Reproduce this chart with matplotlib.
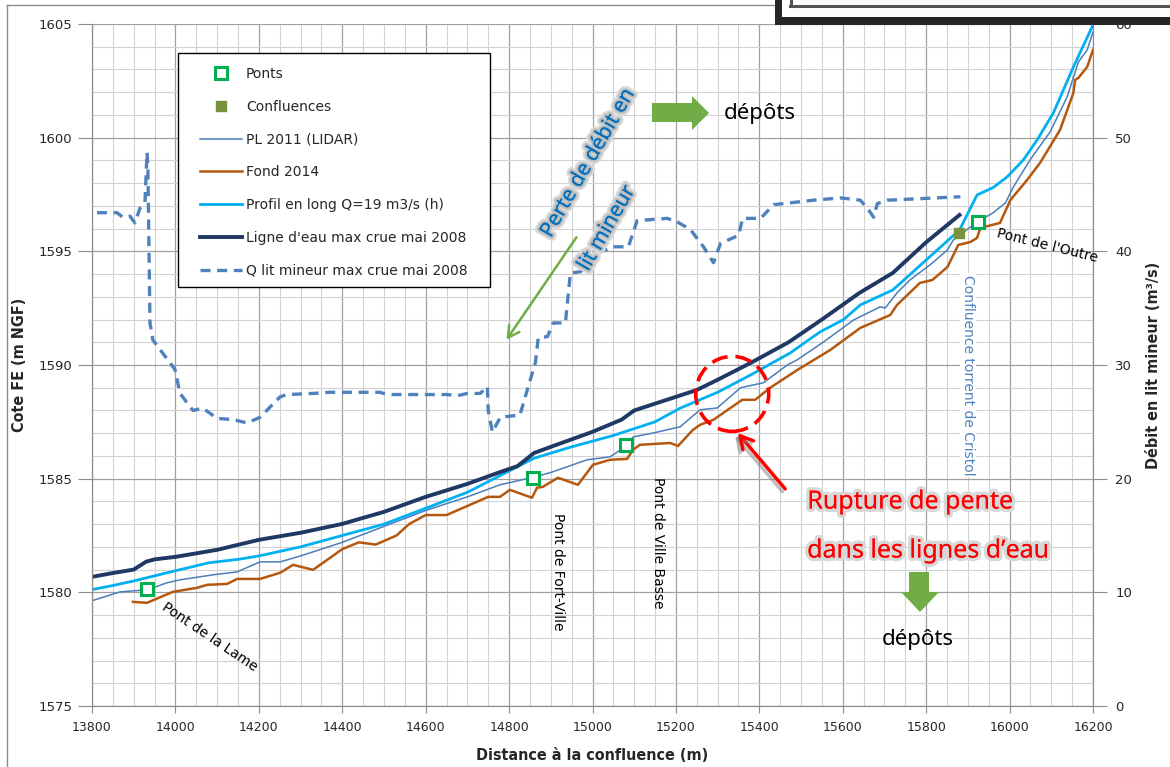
import numpy as np
import matplotlib.pyplot as plt
from matplotlib.patches import Polygon, Ellipse, Rectangle
from matplotlib.lines import Line2D
import matplotlib.patheffects as pe

W, H = 1170, 767

# Ligne d'eau max crue mai 2008
x_crue = [13800, 13850, 13900, 13930, 13950, 14000, 14100, 14200, 14300, 14400,
          14500, 14600, 14700, 14780, 14820, 14860, 14900, 15000, 15070, 15100,
          15200, 15250, 15300, 15380, 15470, 15550, 15640, 15720, 15800, 15880]
z_crue = [1580.68, 1580.85, 1581.00, 1581.35, 1581.45, 1581.56, 1581.87, 1582.31, 1582.62, 1583.01,
          1583.54, 1584.20, 1584.77, 1585.30, 1585.55, 1586.13, 1586.40, 1587.06, 1587.60, 1588.00,
          1588.60, 1588.90, 1589.35, 1590.10, 1591.00, 1592.00, 1593.17, 1594.05, 1595.40, 1596.60]

# Profil en long Q=19 m3/s
x_q19 = [13800, 13850, 13900, 13980, 14080, 14150, 14200, 14300, 14400, 14500,
         14600, 14700, 14780, 14860, 14950, 15050, 15150, 15210, 15300, 15380,
         15474, 15546, 15602, 15642, 15720, 15800, 15880, 15922, 15960, 15994,
         16033, 16066, 16105, 16153, 16200]
z_q19 = [1580.12, 1580.30, 1580.50, 1580.86, 1581.30, 1581.45, 1581.60, 1582.00, 1582.50, 1583.00,
         1583.70, 1584.40, 1585.15, 1585.90, 1586.40, 1586.90, 1587.50, 1588.10, 1588.80, 1589.57,
         1590.53, 1591.46, 1592.00, 1592.64, 1593.30, 1594.62, 1595.94, 1597.48, 1597.80, 1598.27,
         1599.02, 1599.90, 1601.09, 1603.11, 1604.96]

# PL 2011 (LIDAR)
x_pl = [13800, 13867, 13932, 13980, 14011, 14090, 14148, 14203, 14251, 14300,
        14400, 14500, 14600, 14700, 14778, 14850, 14898, 14987, 15042, 15074,
        15098, 15146, 15210, 15258, 15299, 15355, 15410, 15467, 15491, 15553,
        15626, 15690, 15702, 15730, 15761, 15809, 15851, 15865, 15906, 15922,
        15960, 15990, 16009, 16049, 16097, 16138, 16165, 16186, 16200]
z_pl = [1579.63, 1580.02, 1580.11, 1580.42, 1580.55, 1580.77, 1580.90, 1581.34, 1581.34, 1581.60,
        1582.20, 1582.90, 1583.60, 1584.20, 1584.73, 1585.03, 1585.26, 1585.83, 1585.96, 1586.35,
        1586.84, 1587.01, 1587.28, 1588.03, 1588.11, 1589.00, 1589.22, 1590.00, 1590.23, 1591.00,
        1591.98, 1592.56, 1592.51, 1593.17, 1593.74, 1594.40, 1595.06, 1595.50, 1596.07, 1596.29,
        1596.69, 1597.13, 1597.83, 1599.02, 1600.25, 1601.79, 1603.33, 1603.86, 1604.65]

# Fond 2014
x_fond = [13898, 13932, 13994, 14052, 14076, 14124, 14148, 14203, 14251, 14282,
          14330, 14364, 14400, 14440, 14480, 14530, 14560, 14600, 14650, 14700,
          14750, 14778, 14802, 14855, 14867, 14881, 14917, 14965, 15001, 15042,
          15083, 15097, 15114, 15186, 15205, 15241, 15258, 15290, 15359, 15390,
          15426, 15491, 15570, 15642, 15714, 15730, 15785, 15815, 15851, 15877,
          15906, 15922, 15930, 15977, 16002, 16042, 16073, 16121, 16153, 16157,
          16165, 16186, 16200]
z_fond = [1579.58, 1579.54, 1580.02, 1580.20, 1580.33, 1580.37, 1580.59, 1580.59, 1580.86, 1581.21,
          1580.99, 1581.43, 1581.90, 1582.20, 1582.10, 1582.50, 1583.00, 1583.40, 1583.40, 1583.80,
          1584.20, 1584.20, 1584.51, 1584.16, 1584.60, 1584.64, 1585.04, 1584.73, 1585.61, 1585.83,
          1585.87, 1586.27, 1586.49, 1586.57, 1586.44, 1587.15, 1587.37, 1587.59, 1588.47, 1588.47,
          1589.00, 1589.78, 1590.66, 1591.63, 1592.20, 1592.64, 1593.61, 1593.74, 1594.31, 1595.28,
          1595.41, 1595.59, 1596.03, 1596.25, 1597.26, 1598.14, 1598.89, 1600.34, 1601.97, 1602.54,
          1602.63, 1603.11, 1603.86]

# Q lit mineur max crue mai 2008 (axe de droite)
x_qlm = [13812, 13860, 13874, 13891, 13903, 13915, 13927, 13932, 13934, 13939,
         13946, 13999, 14011, 14042, 14066, 14100, 14138, 14172, 14203, 14251,
         14268, 14330, 14371, 14491, 14507, 14651, 14676, 14700, 14731, 14748,
         14750, 14760, 14779, 14826, 14846, 14863, 14870, 14892, 14906, 14935,
         14947, 14971, 15011, 15050, 15086, 15107, 15179, 15203, 15235, 15266,
         15290, 15307, 15350, 15360, 15403, 15434, 15530, 15595, 15642, 15659,
         15674, 15683, 15707, 15882]
q_qlm = [43.4, 43.4, 43.0, 43.1, 42.5, 43.8, 44.3, 48.7, 47.4, 33.7,
         32.2, 29.6, 27.5, 26.0, 26.2, 25.3, 25.2, 24.9, 25.4, 27.2,
         27.4, 27.5, 27.6, 27.6, 27.4, 27.4, 27.3, 27.5, 27.5, 28.1,
         26.0, 24.1, 25.4, 25.6, 28.1, 30.2, 32.4, 32.5, 33.7, 33.7,
         38.1, 38.2, 39.8, 40.4, 40.4, 42.7, 42.9, 42.6, 41.9, 40.4,
         39.0, 40.7, 41.4, 42.9, 42.9, 44.1, 44.5, 44.7, 44.5, 43.8,
         43.0, 44.2, 44.5, 44.8]

# ponts et confluences
x_ponts = [13932, 14858, 15081, 15925]
z_ponts = [1580.15, 1585.03, 1586.49, 1596.29]
noms_ponts = ["Pont de la Lame", "Pont de Fort-Ville", "Pont de Ville Basse", "Pont de l'Outre"]
x_confl = [15879]
z_confl = [1595.81]

c_crue = '#1F3864'
c_q19 = '#00B0F0'
c_pl = '#4A7EBB'
c_fond = '#B5580F'
c_qlm = '#4F81BD'
c_pont = '#00B050'
c_confl = '#77933C'
c_vert = '#70AD47'


def fp(x, y):
    # pixels -> fraction de figure
    return (x / W, 1 - y / H)


fig = plt.figure(figsize=(W / 100, H / 100), dpi=100)
ax = fig.add_axes([92 / W, 1 - 706 / H, (1093 - 92) / W, (706 - 24) / H])
ax2 = ax.twinx()

ax.set_xlim(13800, 16200)
ax.set_ylim(1575, 1605)
ax2.set_ylim(0, 60)
ax.set_xticks(np.arange(13800, 16201, 200))
ax.set_xticks(np.arange(13800, 16201, 50), minor=True)
ax.set_yticks(np.arange(1575, 1606, 5))
ax.set_yticks(np.arange(1575, 1606, 1), minor=True)
ax2.set_yticks(np.arange(0, 61, 10))
ax.grid(which='major', color='#a0a0a0', lw=0.9)
ax.grid(which='minor', color='#d2d2d2', lw=0.8)
ax.set_axisbelow(True)
for a in (ax, ax2):
    a.spines['top'].set_visible(False)
    for s in ('left', 'right', 'bottom'):
        a.spines[s].set_color('#8c8c8c')
ax.tick_params(which='major', axis='y', length=10, color='#8c8c8c', labelsize=9.5, labelcolor='#262626', pad=4)
ax.tick_params(which='major', axis='x', length=5, color='#8c8c8c', labelsize=9, labelcolor='#262626', pad=6)
ax.tick_params(which='minor', length=0)
ax2.tick_params(axis='y', length=10, color='#8c8c8c', labelsize=9.5, labelcolor='#262626', pad=6)

ax.plot(x_pl, z_pl, color=c_pl, lw=1.1, zorder=3)
ax.plot(x_fond, z_fond, color=c_fond, lw=1.8, zorder=3)
ax.plot(x_q19, z_q19, color=c_q19, lw=2.0, zorder=3)
ax.plot(x_crue, z_crue, color=c_crue, lw=2.8, zorder=3)
ax.plot(x_ponts, z_ponts, ls='none', marker='s', ms=8, mfc='white', mec=c_pont, mew=2.2, zorder=4)
ax.plot(x_confl, z_confl, ls='none', marker='s', ms=7, color=c_confl, zorder=4)
ax2.plot(x_qlm, q_qlm, color=c_qlm, lw=2.4, ls=(0, (3, 2)))

lab_font = dict(fontsize=11.5, fontweight='bold', fontstretch='condensed', color='#262626')
ax.set_xlabel('Distance à la confluence (m)', labelpad=10, **lab_font)
ax.set_ylabel('Cote FE (m NGF)', labelpad=8, **lab_font)
ax2.set_ylabel('Débit en lit mineur (m³/s)', labelpad=10, **lab_font)

# légende (cadre dessiné à part)
handles = [
    Line2D([], [], ls='none', marker='s', ms=8, mfc='white', mec=c_pont, mew=2.2),
    Line2D([], [], ls='none', marker='s', ms=7, color=c_confl),
    Line2D([], [], color=c_pl, lw=1.1),
    Line2D([], [], color=c_fond, lw=1.8),
    Line2D([], [], color=c_q19, lw=2.0),
    Line2D([], [], color=c_crue, lw=2.8),
    Line2D([], [], color=c_qlm, lw=2.4, ls=(0, (3, 2))),
]
labels = ['Ponts', 'Confluences', 'PL 2011 (LIDAR)', 'Fond 2014', 'Profil en long Q=19 m3/s (h)',
          "Ligne d'eau max crue mai 2008", 'Q lit mineur max crue mai 2008']
leg = ax2.legend(handles, labels, loc='upper left', bbox_to_anchor=fp(200, 67),
                 bbox_transform=fig.transFigure, borderaxespad=0, borderpad=0,
                 fontsize=10, labelspacing=1.35, handlelength=3.0, handletextpad=0.3,
                 frameon=False)
for t in leg.get_texts():
    t.set_color('#262626')
fig.add_artist(Rectangle(fp(178, 287), (490 - 178) / W, (287 - 53) / H, transform=fig.transFigure,
                         facecolor='none', edgecolor='black', lw=1.0, zorder=5))
leg_bg = Rectangle(fp(178, 287), (490 - 178) / W, (287 - 53) / H, transform=fig.transFigure,
                   facecolor='white', edgecolor='none', zorder=1)
ax2.add_artist(leg_bg)
leg_bg.set_zorder(-1)

# noms des ponts
fig.text(*fp(210, 637), noms_ponts[0], rotation=-34, ha='center', va='center', fontsize=10)
fig.text(*fp(558, 572), noms_ponts[1], rotation=-90, ha='center', va='center', fontsize=10)
fig.text(*fp(658, 543), noms_ponts[2], rotation=-90, ha='center', va='center', fontsize=10)
fig.text(*fp(1047, 246), noms_ponts[3], rotation=-14, ha='center', va='center', fontsize=10)
fig.text(*fp(968, 375), 'Confluence torrent de Cristol', rotation=-90, ha='center', va='center',
         fontsize=10, color=c_qlm, bbox=dict(facecolor='white', edgecolor='none', pad=1))

# perte de débit
glow = [pe.withStroke(linewidth=6, foreground='#dadada'), pe.withStroke(linewidth=3, foreground='#bdbdbd')]
fig.text(*fp(588, 163), 'Perte de débit en', rotation=60, ha='center', va='center', fontsize=15,
         color='#0070C0', family='Noto Sans', path_effects=glow + [pe.Normal()])
fig.text(*fp(607, 228), 'lit mineur', rotation=60, ha='center', va='center', fontsize=15,
         color='#0070C0', family='Noto Sans', path_effects=glow + [pe.Normal()])
ax.annotate('', xy=fp(505, 342), xytext=fp(578, 235), xycoords='figure fraction',
            arrowprops=dict(arrowstyle='->,head_length=0.8,head_width=0.45', color=c_vert, lw=1.8))

# flèches vertes "dépôts"
fl_droite = [(652, 103), (692, 103), (692, 96), (709, 113), (692, 130), (692, 122), (652, 122)]
fl_bas = [(909, 572), (929, 572), (929, 592), (939, 592), (920, 612), (901, 592), (909, 592)]
for fl in (fl_droite, fl_bas):
    fig.add_artist(Polygon([fp(*p) for p in fl], closed=True, transform=fig.transFigure,
                           facecolor=c_vert, edgecolor='none'))
fig.text(*fp(760, 113), 'dépôts', ha='center', va='center', fontsize=16, family='Noto Sans')
fig.text(*fp(918, 640), 'dépôts', ha='center', va='center', fontsize=16, family='Noto Sans')

# rupture de pente
ax.add_patch(Ellipse((15335, 1588.73), 175, 3.3, fill=False, edgecolor='#FF0000', lw=2.6,
                     ls=(0, (4.5, 2.2)), zorder=6))
shadow = [pe.SimpleLineShadow(offset=(-2, -2), shadow_color='#808080', alpha=0.5), pe.Normal()]
ax.annotate('', xy=fp(736, 431), xytext=fp(787, 491), xycoords='figure fraction',
            arrowprops=dict(arrowstyle='->,head_length=0.9,head_width=0.5', color='#FF0000', lw=2.5,
                            path_effects=shadow))
glow2 = [pe.withStroke(linewidth=5, foreground='#d8d8d8'), pe.Normal()]
fig.text(*fp(910, 502), 'Rupture de pente', ha='center', va='center', fontsize=18, color='#FF0000',
         family='Noto Sans', path_effects=glow2)
fig.text(*fp(928, 551), 'dans les lignes d’eau', ha='center', va='center', fontsize=18, color='#FF0000',
         family='Noto Sans', path_effects=glow2)

# cadre du graphique et encart en haut à droite
fig.add_artist(plt.Line2D([7 / W, 7 / W], [0, 1 - 5 / H], transform=fig.transFigure, color='#8c8c8c', lw=1))
fig.add_artist(plt.Line2D([7 / W, 775 / W], [1 - 5 / H, 1 - 5 / H], transform=fig.transFigure, color='#8c8c8c', lw=1))
fig.add_artist(Rectangle(fp(775, 25), (W - 775) / W, 25 / H, transform=fig.transFigure,
                         facecolor='white', edgecolor='none', zorder=10))
fig.add_artist(Rectangle(fp(775, 25), 7 / W, 25 / H, transform=fig.transFigure,
                         facecolor='#262626', edgecolor='none', zorder=11))
fig.add_artist(Rectangle(fp(775, 25), (W - 775) / W, 8 / H, transform=fig.transFigure,
                         facecolor='#262626', edgecolor='none', zorder=11))
fig.add_artist(plt.Line2D([790 / W, 1], [1 - 6 / H, 1 - 6 / H], transform=fig.transFigure,
                          color='#555555', lw=2.2, zorder=12))
fig.add_artist(plt.Line2D([791 / W, 791 / W], [1 - 6 / H, 1], transform=fig.transFigure,
                          color='#555555', lw=2.2, zorder=12))

fig.savefig('out.png', dpi=100)
